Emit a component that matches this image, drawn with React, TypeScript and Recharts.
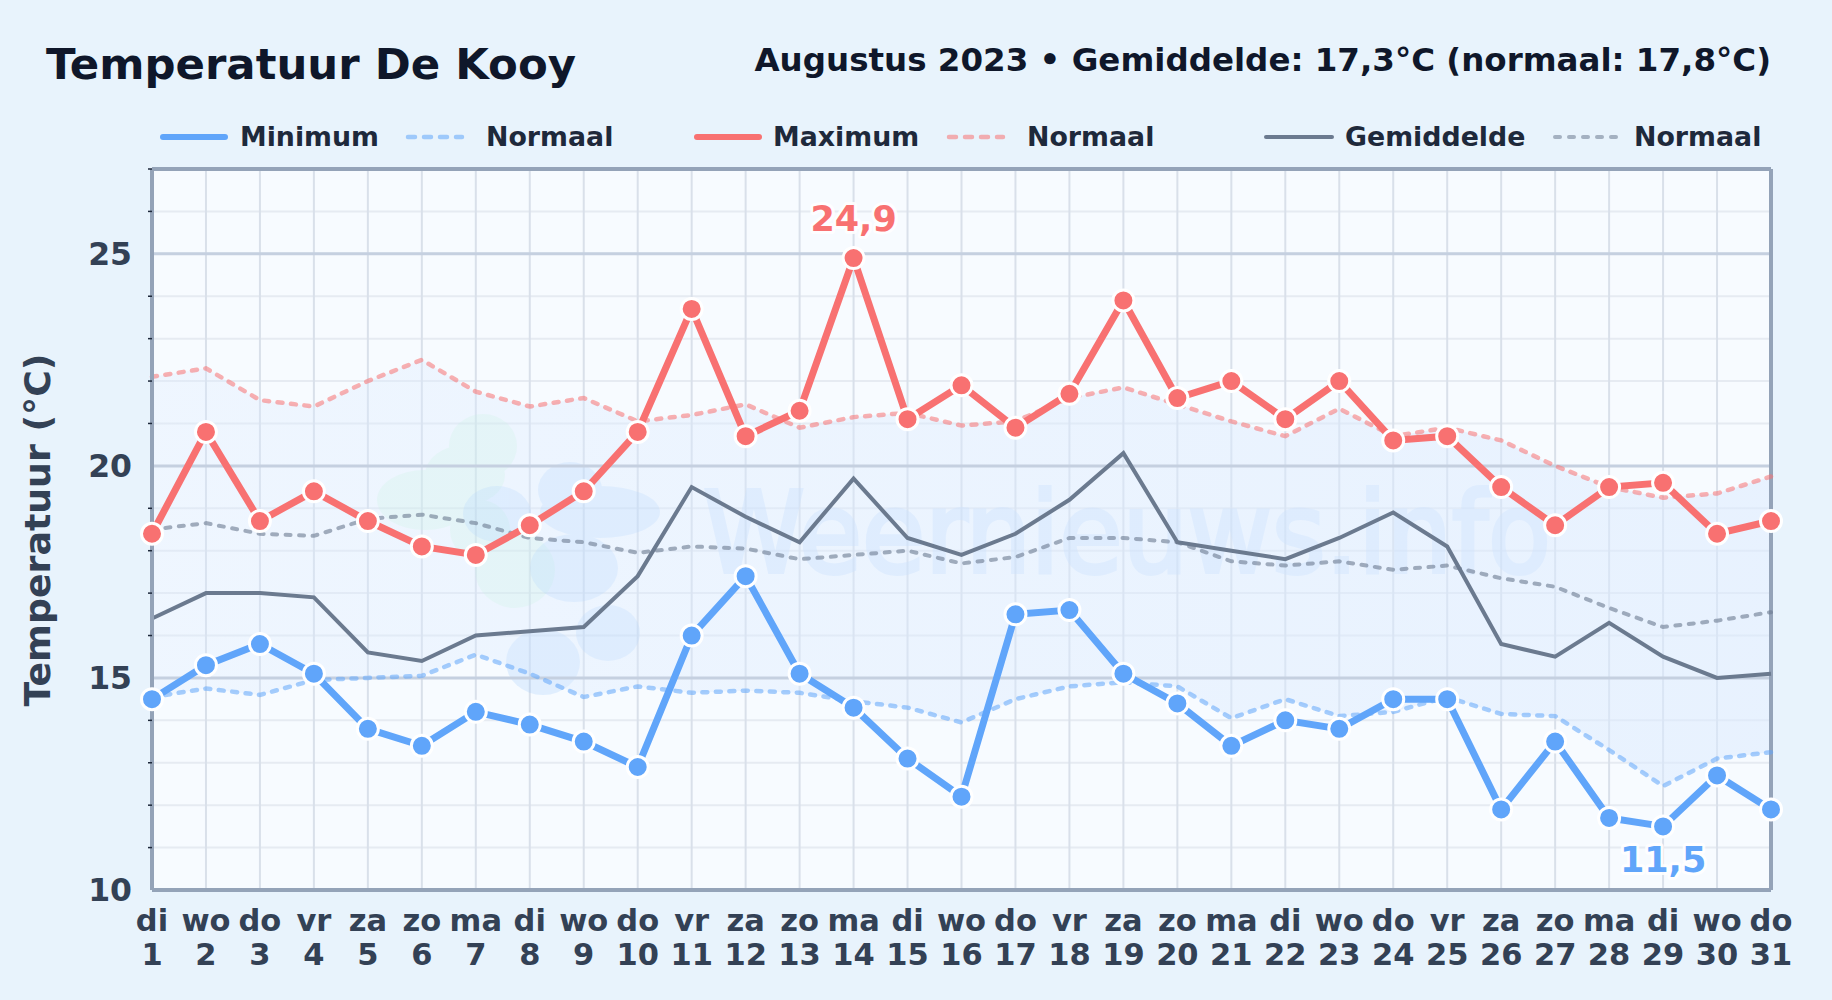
import React from "react";
import {
  ComposedChart,
  Area,
  Line,
  XAxis,
  YAxis,
  CartesianGrid,
  ReferenceLine,
} from "recharts";

const days = ["di", "wo", "do", "vr", "za", "zo", "ma", "di", "wo", "do", "vr", "za", "zo", "ma", "di", "wo", "do", "vr", "za", "zo", "ma", "di", "wo", "do", "vr", "za", "zo", "ma", "di", "wo", "do"];
const dates = [1, 2, 3, 4, 5, 6, 7, 8, 9, 10, 11, 12, 13, 14, 15, 16, 17, 18, 19, 20, 21, 22, 23, 24, 25, 26, 27, 28, 29, 30, 31];
const minimum = [14.5, 15.3, 15.8, 15.1, 13.8, 13.4, 14.2, 13.9, 13.5, 12.9, 16.0, 17.4, 15.1, 14.3, 13.1, 12.2, 16.5, 16.6, 15.1, 14.4, 13.4, 14.0, 13.8, 14.5, 14.5, 11.9, 13.5, 11.7, 11.5, 12.7, 11.9];
const maximum = [18.4, 20.8, 18.7, 19.4, 18.7, 18.1, 17.9, 18.6, 19.4, 20.8, 23.7, 20.7, 21.3, 24.9, 21.1, 21.9, 20.9, 21.7, 23.9, 21.6, 22.0, 21.1, 22.0, 20.6, 20.7, 19.5, 18.6, 19.5, 19.6, 18.4, 18.7];
const gemiddelde = [16.4, 17.0, 17.0, 16.9, 15.6, 15.4, 16.0, 16.1, 16.2, 17.4, 19.5, 18.8, 18.2, 19.7, 18.3, 17.9, 18.4, 19.2, 20.3, 18.2, 18.0, 17.8, 18.3, 18.9, 18.1, 15.8, 15.5, 16.3, 15.5, 15.0, 15.1];
const normaalMin = [14.55, 14.75, 14.6, 14.95, 15.0, 15.05, 15.55, 15.1, 14.55, 14.8, 14.65, 14.7, 14.65, 14.45, 14.3, 13.95, 14.5, 14.8, 14.9, 14.8, 14.05, 14.5, 14.1, 14.2, 14.55, 14.15, 14.1, 13.3, 12.45, 13.1, 13.25];
const normaalMax = [22.1, 22.3, 21.55, 21.4, 22.0, 22.5, 21.75, 21.4, 21.6, 21.05, 21.2, 21.45, 20.9, 21.15, 21.25, 20.95, 21.05, 21.6, 21.85, 21.45, 21.05, 20.7, 21.35, 20.7, 20.9, 20.6, 20.0, 19.5, 19.25, 19.35, 19.75];
const normaalGem = [18.5, 18.65, 18.4, 18.35, 18.75, 18.85, 18.65, 18.3, 18.2, 17.95, 18.1, 18.05, 17.8, 17.9, 18.0, 17.7, 17.85, 18.3, 18.3, 18.2, 17.75, 17.65, 17.75, 17.55, 17.65, 17.35, 17.15, 16.65, 16.2, 16.35, 16.55];
const yTicks = [10, 11, 12, 13, 14, 15, 16, 17, 18, 19, 20, 21, 22, 23, 24, 25, 26, 27];
const majorTicks = [15, 20, 25];

const BLUE = "#60a5fa";
const RED = "#f87171";
const GREY = "#6b7a8f";
const FONT = "'DejaVu Sans', sans-serif";

// one row per day, built from the arrays above
const data = dates.map((d, i) => ({
  date: d,
  day: days[i],
  min: minimum[i],
  max: maximum[i],
  mean: gemiddelde[i],
  nMin: normaalMin[i],
  nMax: normaalMax[i],
  nMean: normaalGem[i],
  band: [normaalMin[i], normaalMax[i]],
}));

const legendItems = [
  { name: "Minimum", color: BLUE, width: 6, dash: undefined, x: 163, len: 62, text: 240 },
  { name: "Normaal", color: BLUE, width: 4.5, dash: "7 9", x: 408, len: 54, text: 486, faded: true },
  { name: "Maximum", color: RED, width: 6, dash: undefined, x: 697, len: 62, text: 773 },
  { name: "Normaal", color: RED, width: 4.5, dash: "7 9", x: 949, len: 54, text: 1027, faded: true },
  { name: "Gemiddelde", color: GREY, width: 4, dash: undefined, x: 1266, len: 66, text: 1345 },
  { name: "Normaal", color: GREY, width: 4, dash: "5 9", x: 1555, len: 62, text: 1634, faded: true },
];

function XTick({ x, y, payload }: any) {
  return (
    <text x={x} textAnchor="middle" fontFamily={FONT} fontWeight={700} fontSize={30.5} fill="#334155">
      <tspan x={x} y={y + 33}>{days[payload.index]}</tspan>
      <tspan x={x} y={y + 67}>{payload.value}</tspan>
    </text>
  );
}

function YTick({ x, y, payload }: any) {
  if (payload.value % 5 === 0) {
    return (
      <text x={x - 12} y={y + 11.3} textAnchor="end" fontFamily={FONT} fontWeight={700} fontSize={31.5} fill="#334155">
        {payload.value}
      </text>
    );
  }
  return <line x1={x + 4} x2={x + 8} y1={y} y2={y} stroke="#1e293b" strokeWidth={1.5} />;
}

function dot(color: string) {
  return { r: 10.5, fill: color, stroke: "#ffffff", strokeWidth: 3 };
}

function peakLabel(values: number[], target: number, color: string, dy: number) {
  return (props: any) => {
    if (values[props.index] !== target) return <g key={props.index} />;
    return (
      <text
        key={props.index}
        x={props.x}
        y={props.y + dy}
        textAnchor="middle"
        fontFamily={FONT}
        fontWeight={700}
        fontSize={35}
        fill={color}
        stroke="#ffffff"
        strokeWidth={6}
        strokeOpacity={0.9}
        strokeLinejoin="round"
        paintOrder="stroke"
      >
        {String(target).replace(".", ",")}
      </text>
    );
  };
}

function Watermark() {
  return (
    <g style={{ pointerEvents: "none" }}>
      <g fill="#bbf7d0" opacity={0.22}>
        <ellipse cx={483} cy={446} rx={34} ry={32} />
        <ellipse cx={425} cy={500} rx={48} ry={30} />
        <ellipse cx={465} cy={475} rx={40} ry={30} />
        <ellipse cx={515} cy={570} rx={40} ry={38} />
        <ellipse cx={480} cy={530} rx={30} ry={30} />
      </g>
      <g fill="#93c5fd" opacity={0.22}>
        <ellipse cx={497} cy={514} rx={34} ry={28} />
        <ellipse cx={570} cy={490} rx={32} ry={28} />
        <ellipse cx={600} cy={512} rx={60} ry={26} />
        <ellipse cx={574} cy={568} rx={44} ry={34} />
        <ellipse cx={608} cy={633} rx={32} ry={28} />
        <ellipse cx={543} cy={662} rx={37} ry={33} />
      </g>
      <text
        x={703}
        y={572}
        fontFamily={FONT}
        fontSize={112}
        textLength={848}
        lengthAdjust="spacingAndGlyphs"
        fill="#bfdbfe"
        stroke="#bfdbfe"
        strokeWidth={4}
        opacity={0.38}
      >
        Weernieuws.info
      </text>
    </g>
  );
}

export default function App() {
  return (
    <div style={{ position: "absolute", left: 0, top: 0, width: 1832, height: 1000, background: "#e8f3fc", fontFamily: FONT, overflow: "hidden" }}>
      <div style={{ position: "absolute", left: 46, top: 38, fontSize: 43.4, fontWeight: 700, color: "#0f172a", lineHeight: "52px", whiteSpace: "nowrap" }}>
        Temperatuur De Kooy
      </div>
      <div style={{ position: "absolute", right: 61, top: 40, fontSize: 32.5, fontWeight: 700, color: "#0f172a", lineHeight: "40px", whiteSpace: "nowrap" }}>
        Augustus 2023 • Gemiddelde: 17,3°C (normaal: 17,8°C)
      </div>

      <ComposedChart
        width={1832}
        height={1000}
        data={data}
        margin={{ top: 169, right: 61, bottom: 10, left: 52 }}
        style={{ position: "absolute", left: 0, top: 0 }}
      >
        <defs>
          <linearGradient id="bandFill" x1="0" y1="0" x2="1" y2="0">
            <stop offset="0%" stopColor="#dbeafe" stopOpacity={0.5} />
            <stop offset="100%" stopColor="#dbeafe" stopOpacity={0.9} />
          </linearGradient>
        </defs>
        <CartesianGrid vertical={false} stroke="#e6ebf2" strokeWidth={2} fill="#f7fbff" horizontalValues={yTicks} />
        <CartesianGrid horizontal={false} stroke="#d9e0ea" strokeWidth={2} />
        <Area dataKey="band" stroke="none" fill="url(#bandFill)" isAnimationActive={false} dot={false} activeDot={false} />
        <Watermark />
        {majorTicks.map((t) => (
          <ReferenceLine key={t} y={t} stroke="#c5d0e0" strokeWidth={3} />
        ))}
        <ReferenceLine y={27} stroke="#94a3b8" strokeWidth={4} />
        <ReferenceLine x={31} stroke="#94a3b8" strokeWidth={4} />
        <XAxis
          dataKey="date"
          scale="point"
          interval={0}
          height={100}
          tickLine={false}
          axisLine={{ stroke: "#94a3b8", strokeWidth: 4 }}
          tick={<XTick />}
        />
        <YAxis
          domain={[10, 27]}
          ticks={yTicks}
          interval={0}
          width={100}
          tickLine={false}
          axisLine={{ stroke: "#94a3b8", strokeWidth: 4 }}
          tick={<YTick />}
        />
        <Line dataKey="nMin" stroke={BLUE} strokeOpacity={0.55} strokeWidth={4.5} strokeDasharray="5 8.5" strokeLinecap="round" dot={false} activeDot={false} isAnimationActive={false} />
        <Line dataKey="nMax" stroke={RED} strokeOpacity={0.55} strokeWidth={4.5} strokeDasharray="5 8.5" strokeLinecap="round" dot={false} activeDot={false} isAnimationActive={false} />
        <Line dataKey="nMean" stroke={GREY} strokeOpacity={0.6} strokeWidth={4} strokeDasharray="5 8.5" strokeLinecap="round" dot={false} activeDot={false} isAnimationActive={false} />
        <Line dataKey="mean" stroke={GREY} strokeWidth={4} dot={false} activeDot={false} isAnimationActive={false} />
        <Line dataKey="min" stroke={BLUE} strokeWidth={7} dot={dot(BLUE)} activeDot={false} isAnimationActive={false} label={peakLabel(minimum, 11.5, BLUE, 46)} />
        <Line dataKey="max" stroke={RED} strokeWidth={7} dot={dot(RED)} activeDot={false} isAnimationActive={false} label={peakLabel(maximum, 24.9, RED, -27)} />
      </ComposedChart>

      <svg width={1832} height={165} style={{ position: "absolute", left: 0, top: 0, pointerEvents: "none" }}>
        {legendItems.map((item, i) => (
          <g key={i}>
            <line
              x1={item.x}
              x2={item.x + item.len}
              y1={137}
              y2={137}
              stroke={item.color}
              strokeWidth={item.width}
              strokeDasharray={item.dash}
              strokeOpacity={item.faded ? 0.55 : 1}
              strokeLinecap="round"
            />
            <text x={item.text} y={146} fontFamily={FONT} fontWeight={700} fontSize={26.8} fill="#1e293b">
              {item.name}
            </text>
          </g>
        ))}
      </svg>

      <div
        style={{
          position: "absolute",
          left: 37,
          top: 530,
          transform: "translate(-50%, -50%) rotate(-90deg)",
          fontSize: 36.3,
          fontWeight: 700,
          color: "#334155",
          whiteSpace: "nowrap",
        }}
      >
        Temperatuur (°C)
      </div>
    </div>
  );
}
